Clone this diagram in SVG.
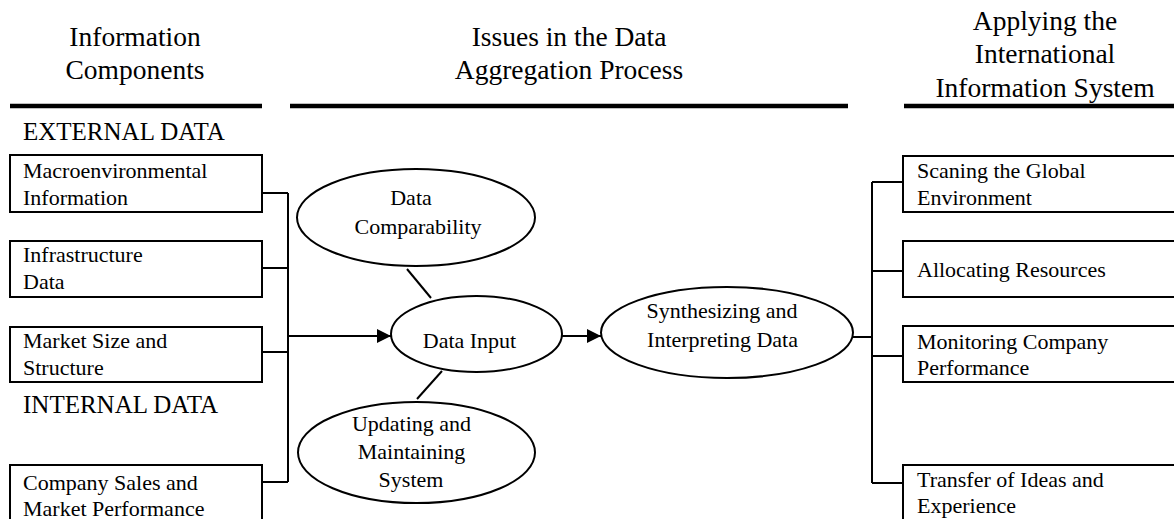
<svg xmlns="http://www.w3.org/2000/svg" width="1174" height="519" viewBox="0 0 1174 519">
<style>
text{font-family:"Liberation Serif","Times New Roman",serif;fill:#000}
.h{font-size:27.5px;text-anchor:middle}
.t{font-size:22px}
.c{font-size:22px;text-anchor:middle}
.sec{font-size:25px}
.box{fill:#fff;stroke:#000;stroke-width:2}
.ell{fill:#fff;stroke:#000;stroke-width:2}
.ln{fill:none;stroke:#000;stroke-width:2}
.rule{stroke:#000;stroke-width:4.5}
</style>
<defs>
<marker id="arr" markerUnits="userSpaceOnUse" markerWidth="15" markerHeight="15" refX="14" refY="7" orient="auto">
<path d="M0,0 L14,7 L0,14 z" fill="#000"/>
</marker>
</defs>
<rect width="1174" height="519" fill="#fff"/>
<g id="headers">
<text class="h" x="135" y="46">Information</text>
<text class="h" x="135" y="79">Components</text>
<text class="h" x="569" y="46">Issues in the Data</text>
<text class="h" x="569" y="79">Aggregation Process</text>
<text class="h" x="1045" y="30">Applying the</text>
<text class="h" x="1045" y="63">International</text>
<text class="h" x="1045" y="97">Information System</text>
<line class="rule" x1="10" y1="106" x2="262" y2="106"/>
<line class="rule" x1="290" y1="106" x2="848" y2="106"/>
<line class="rule" x1="904" y1="106" x2="1174" y2="106"/>
<text class="sec" x="23" y="140">EXTERNAL DATA</text>
<text class="sec" x="23" y="413">INTERNAL DATA</text>
</g>
<g id="connectors">
<path class="ln" d="M262,193 H288 M262,268 H288 M262,352 H288 M262,482 H288 M288,193 V482"/>
<line class="ln" x1="288" y1="336" x2="391" y2="336" marker-end="url(#arr)"/>
<line class="ln" x1="562" y1="336" x2="601" y2="336" marker-end="url(#arr)"/>
<line class="ln" x1="407" y1="269" x2="431" y2="298"/>
<line class="ln" x1="442" y1="371" x2="417" y2="399"/>
<path class="ln" d="M853,337 H872 M872,182 V483 M872,182 H903 M872,271 H903 M872,356 H903 M872,483 H903"/>
</g>
<g id="n-macro"><rect class="box" x="10" y="155" width="252" height="57"/><text class="t" x="23" y="178">Macroenvironmental</text><text class="t" x="23" y="205">Information</text></g>
<g id="n-infra"><rect class="box" x="10" y="241" width="252" height="56"/><text class="t" x="23" y="262">Infrastructure</text><text class="t" x="23" y="289">Data</text></g>
<g id="n-market"><rect class="box" x="10" y="327" width="252" height="55"/><text class="t" x="23" y="348">Market Size and</text><text class="t" x="23" y="375">Structure</text></g>
<g id="n-sales"><rect class="box" x="10" y="465" width="252" height="70"/><text class="t" x="23" y="490">Company Sales and</text><text class="t" x="23" y="516">Market Performance</text></g>
<g id="n-compar"><ellipse class="ell" cx="416" cy="217.5" rx="119" ry="48.5"/><text class="c" x="411" y="205">Data</text><text class="c" x="418" y="234">Comparability</text></g>
<g id="n-input"><ellipse class="ell" cx="476.5" cy="334" rx="85.5" ry="38"/><text class="c" x="469.5" y="348">Data Input</text></g>
<g id="n-update"><ellipse class="ell" cx="416.5" cy="452.5" rx="118.5" ry="50.5"/><text class="c" x="411.5" y="431">Updating and</text><text class="c" x="411.5" y="459">Maintaining</text><text class="c" x="411" y="487">System</text></g>
<g id="n-synth"><ellipse class="ell" cx="727" cy="332.5" rx="126" ry="45.5"/><text class="c" x="722" y="318">Synthesizing and</text><text class="c" x="722.5" y="347">Interpreting Data</text></g>
<g id="n-scan"><rect class="box" x="903" y="156" width="290" height="56"/><text class="t" x="917" y="178">Scaning the Global</text><text class="t" x="917" y="205">Environment</text></g>
<g id="n-alloc"><rect class="box" x="903" y="241" width="290" height="56"/><text class="t" x="917" y="277">Allocating Resources</text></g>
<g id="n-monitor"><rect class="box" x="903" y="326" width="290" height="56"/><text class="t" x="917" y="349">Monitoring Company</text><text class="t" x="917" y="375">Performance</text></g>
<g id="n-transfer"><rect class="box" x="903" y="465" width="290" height="70"/><text class="t" x="917" y="487">Transfer of Ideas and</text><text class="t" x="917" y="513">Experience</text></g>
</svg>
